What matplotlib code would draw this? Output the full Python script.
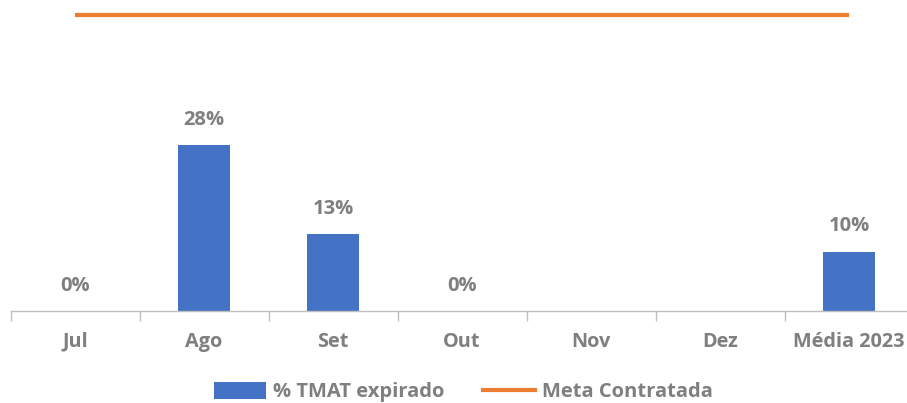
import matplotlib
matplotlib.use("Agg")
import matplotlib.pyplot as plt
import numpy as np
from matplotlib.lines import Line2D
from matplotlib.patches import Patch

# data
categories = ["Jul", "Ago", "Set", "Out", "Nov", "Dez", "Média 2023"]
tmat_expirado = [0.0, 0.28, 0.13, 0.0, None, None, 0.10]
meta_contratada = [0.50] * 7

blue = "#4472C4"
orange = "#ED7D31"
grey = "#7F7F7F"

W, H = 907, 403
fig = plt.figure(figsize=(W / 100, H / 100), dpi=100)
# axes placed in pixel terms: x 10.5..913.5, baseline at y=311 from top
ax = fig.add_axes([10.5 / W, 1 - 311 / H, 903 / W, 311 / H])

x = np.arange(len(categories))
vals = [v if v is not None else 0 for v in tmat_expirado]
ax.bar(x, vals, width=0.4, color=blue, zorder=2)
ax.plot(x, meta_contratada, color=orange, linewidth=3, solid_capstyle="butt", zorder=3)

for xi, v in zip(x, tmat_expirado):
    if v is None:
        continue
    ax.annotate("{:.0f}%".format(v * 100), (xi, v), xytext=(0, 11),
                textcoords="offset points", ha="center", va="bottom",
                fontsize=14.5, fontweight="bold", color=grey, family="Open Sans")

ax.set_xlim(-0.5, len(categories) - 0.5)
ax.set_ylim(0, 0.5245)
ax.set_yticks([])
for s in ["top", "right", "left"]:
    ax.spines[s].set_visible(False)
ax.spines["bottom"].set_color("#BFBFBF")
ax.spines["bottom"].set_linewidth(1)

ax.set_xticks(x)
ax.set_xticklabels(categories, fontsize=14.3, fontweight="bold", color=grey, family="Open Sans")
ax.tick_params(axis="x", which="major", length=0, pad=15)
ax.set_xticks(np.arange(-0.5, len(categories)), minor=True)
ax.tick_params(axis="x", which="minor", length=7, color="#BFBFBF", width=1)

handles = [Patch(facecolor=blue, edgecolor="none"),
           Line2D([0], [0], color=orange, linewidth=3)]
fig.legend(handles, ["% TMAT expirado", "Meta Contratada"], loc="center",
           bbox_to_anchor=(463.5 / W, 1 - 392 / H), ncol=2, frameon=False,
           prop={"family": "Open Sans", "weight": "bold", "size": 14.5},
           labelcolor=grey, handlelength=2.55, handleheight=0.9,
           columnspacing=1.95, handletextpad=0.35, borderpad=0)

fig.savefig("out.png", dpi=100)
